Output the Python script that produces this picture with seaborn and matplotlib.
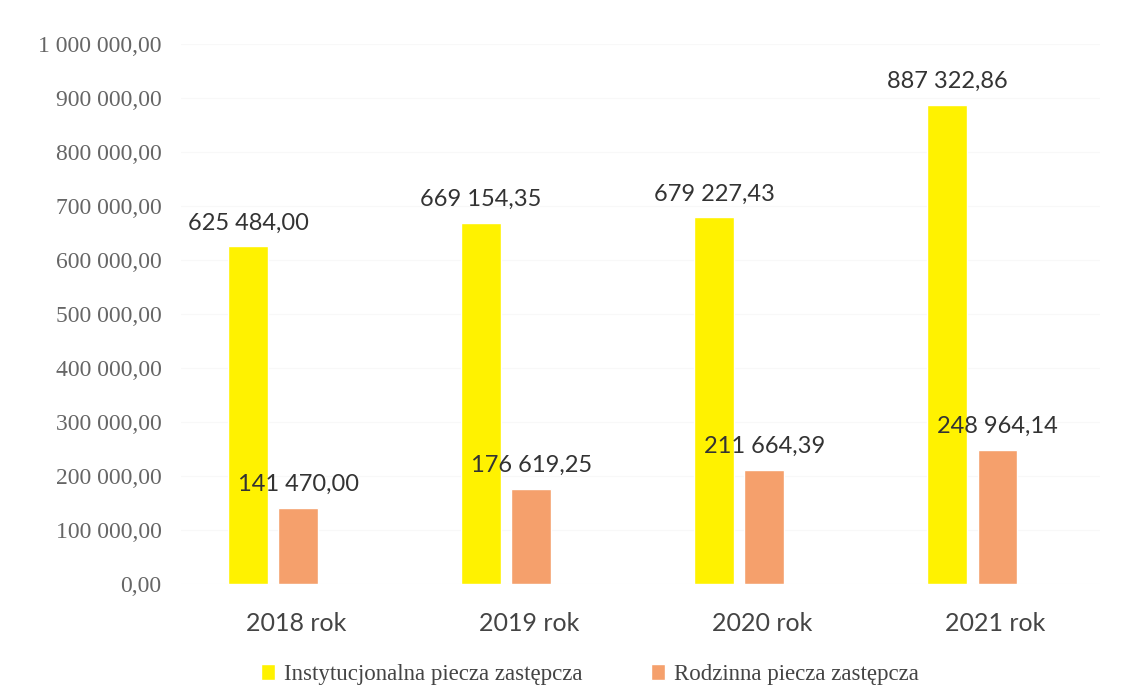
import pandas as pd
import matplotlib
matplotlib.use("Agg")
import matplotlib.pyplot as plt
import seaborn as sns
from matplotlib.ticker import FuncFormatter, MultipleLocator

lata = ["2018 rok", "2019 rok", "2020 rok", "2021 rok"]
serie = ["Instytucjonalna piecza zastępcza", "Rodzinna piecza zastępcza"]
instytucjonalna = [625484.00, 669154.35, 679227.43, 887322.86]
rodzinna = [141470.00, 176619.25, 211664.39, 248964.14]
kolory = {serie[0]: "#FFF200", serie[1]: "#F5A06C"}

df = pd.DataFrame({
    "rok": lata * 2,
    "seria": [serie[0]] * 4 + [serie[1]] * 4,
    "kwota": instytucjonalna + rodzinna,
})


def pl_format(v, pos=None):
    return f"{v:,.2f}".replace(",", " ").replace(".", ",")


sns.set_style("white")
plt.rcParams["font.family"] = ["Lato", "DejaVu Sans"]

fig = plt.figure(figsize=(11.31, 6.87), dpi=100)
ax = fig.add_axes([0.16, 0.150, 0.813, 0.786])

sns.barplot(data=df, x="rok", y="kwota", hue="seria", palette=kolory,
            width=0.43, gap=0.21, saturation=1, ax=ax)

for cont in ax.containers:
    ax.bar_label(cont, labels=[pl_format(b.get_height()) for b in cont],
                 padding=9, fontsize=17, color="#333333")

ax.set_ylim(0, 1000000)
ax.set_xlim(-0.395, 3.55)
ax.yaxis.set_major_locator(MultipleLocator(100000))
ax.yaxis.set_major_formatter(FuncFormatter(pl_format))
for t in ax.get_yticklabels():
    t.set_fontfamily("Liberation Serif")
ax.tick_params(axis="y", labelsize=17, labelcolor="#666666", length=0, pad=14)
ax.set_xticks([i + 0.1 for i in range(len(lata))])
ax.set_xticklabels(lata)
ax.tick_params(axis="x", labelsize=18, labelcolor="#444444", length=0, pad=20)
ax.set_xlabel("")
ax.set_ylabel("")
sns.despine(ax=ax, left=True, bottom=True)
ax.grid(axis="y", color="#f8f8f8", linewidth=0.8)
ax.set_axisbelow(True)

sns.move_legend(ax, "lower center", bbox_to_anchor=(0.445, -0.225), ncol=2,
                frameon=False, title=None, fontsize=16.5,
                handlelength=0.6, handleheight=0.7, handletextpad=0.4,
                columnspacing=3.0)
for t in ax.get_legend().get_texts():
    t.set_fontfamily("Liberation Serif")
    t.set_color("#444444")

fig.savefig("out.png", dpi=100)
